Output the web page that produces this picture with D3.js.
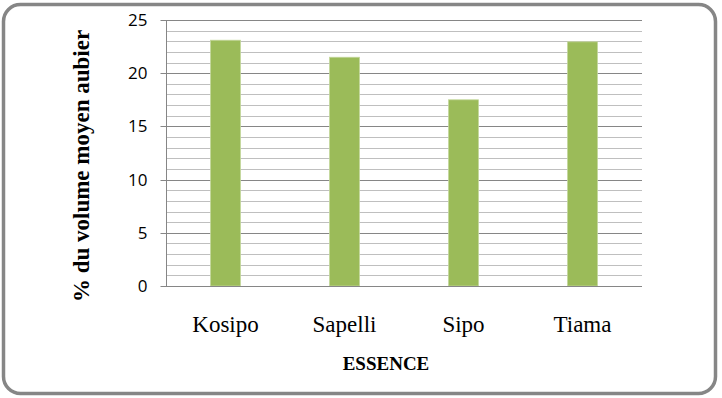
<!DOCTYPE html>
<html>
<head>
<meta charset="utf-8">
<script src="https://cdn.jsdelivr.net/npm/d3@7"></script>
<style>
  body { margin: 0; background: #fff; }
  svg { display: block; }
  .serif { font-family: "Liberation Serif", "Times New Roman", serif; }
</style>
</head>
<body>
<svg id="chart" width="722" height="398"></svg>
<script>
// data
let essences = ['Kosipo', 'Sapelli', 'Sipo', 'Tiama']
let volumeAubier = [23.1, 21.5, 17.5, 22.95]
let majorTicks = [0, 5, 10, 15, 20, 25]

let width = 722
let height = 398
let margin = { top: 20, right: 80, bottom: 112, left: 166 }
let barColor = '#9BBB59'

let svg = d3.select('#chart')

// outer rounded frame
svg.append('rect')
  .attr('x', 3.5).attr('y', 4.5)
  .attr('width', 712).attr('height', 389)
  .attr('rx', 17).attr('ry', 17)
  .attr('fill', '#fff')
  .attr('stroke', '#868686')
  .attr('stroke-width', 3.5)

let x = d3.scaleBand()
  .domain(essences)
  .range([margin.left, width - margin.right])
  .paddingInner(0.748)
  .paddingOuter(0.374)

let y = d3.scaleLinear()
  .domain([0, 25])
  .range([height - margin.bottom, margin.top])

// minor gridlines every unit
svg.append('g')
  .selectAll('line')
  .data(d3.range(1, 25).filter(v => v % 5 !== 0))
  .enter()
  .append('line')
  .attr('x1', margin.left).attr('x2', width - margin.right)
  .attr('y1', d => Math.round(y(d)) + 0.5)
  .attr('y2', d => Math.round(y(d)) + 0.5)
  .attr('stroke', '#BFBFBF')
  .attr('stroke-width', 1)

// major gridlines
svg.append('g')
  .selectAll('line')
  .data(majorTicks.filter(v => v > 0))
  .enter()
  .append('line')
  .attr('x1', margin.left).attr('x2', width - margin.right)
  .attr('y1', d => Math.round(y(d)) + 0.5)
  .attr('y2', d => Math.round(y(d)) + 0.5)
  .attr('stroke', '#868686')
  .attr('stroke-width', 1)

// bars
svg.append('g')
  .selectAll('rect')
  .data(essences)
  .enter()
  .append('rect')
  .attr('x', d => x(d))
  .attr('width', x.bandwidth())
  .attr('y', (d, i) => y(volumeAubier[i]))
  .attr('height', (d, i) => y(0) - y(volumeAubier[i]))
  .attr('fill', barColor)
  .attr('stroke', '#C4D79B')
  .attr('stroke-width', 0.8)

// y axis
let yAxis = d3.axisLeft(y)
  .tickValues(majorTicks)
  .tickSize(6)
  .tickPadding(13)
  .tickFormat(d3.format('d'))

let yG = svg.append('g')
  .attr('transform', `translate(${margin.left + 0.5},0)`)
  .call(yAxis)
yG.select('.domain').attr('stroke', '#868686').attr('d', `M0,${y(25)}V${y(0)}`)
yG.selectAll('.tick line').attr('stroke', '#868686')
yG.selectAll('.tick')
  .attr('transform', d => `translate(0,${Math.round(y(d)) + 0.5})`)
yG.selectAll('.tick text')
  .attr('fill', '#000')
  .attr('font-family', '"Open Sans", sans-serif')
  .attr('font-size', 17)

// x axis baseline
svg.append('line')
  .attr('x1', margin.left).attr('x2', width - margin.right)
  .attr('y1', Math.round(y(0)) + 0.5).attr('y2', Math.round(y(0)) + 0.5)
  .attr('stroke', '#868686')

// category labels
svg.append('g')
  .selectAll('text')
  .data(essences)
  .enter()
  .append('text')
  .attr('class', 'serif')
  .attr('x', d => x(d) + x.bandwidth() / 2)
  .attr('y', 332)
  .attr('text-anchor', 'middle')
  .attr('font-size', 23)
  .text(d => d)

// axis titles
svg.append('text')
  .attr('class', 'serif')
  .attr('x', 386)
  .attr('y', 369.5)
  .attr('text-anchor', 'middle')
  .attr('font-size', 19)
  .attr('font-weight', 'bold')
  .text('ESSENCE')

svg.append('text')
  .attr('class', 'serif')
  .attr('transform', 'translate(89,166) rotate(-90)')
  .attr('text-anchor', 'middle')
  .attr('font-size', 23)
  .attr('font-weight', 'bold')
  .text('% du volume moyen aubier')
</script>
</body>
</html>
